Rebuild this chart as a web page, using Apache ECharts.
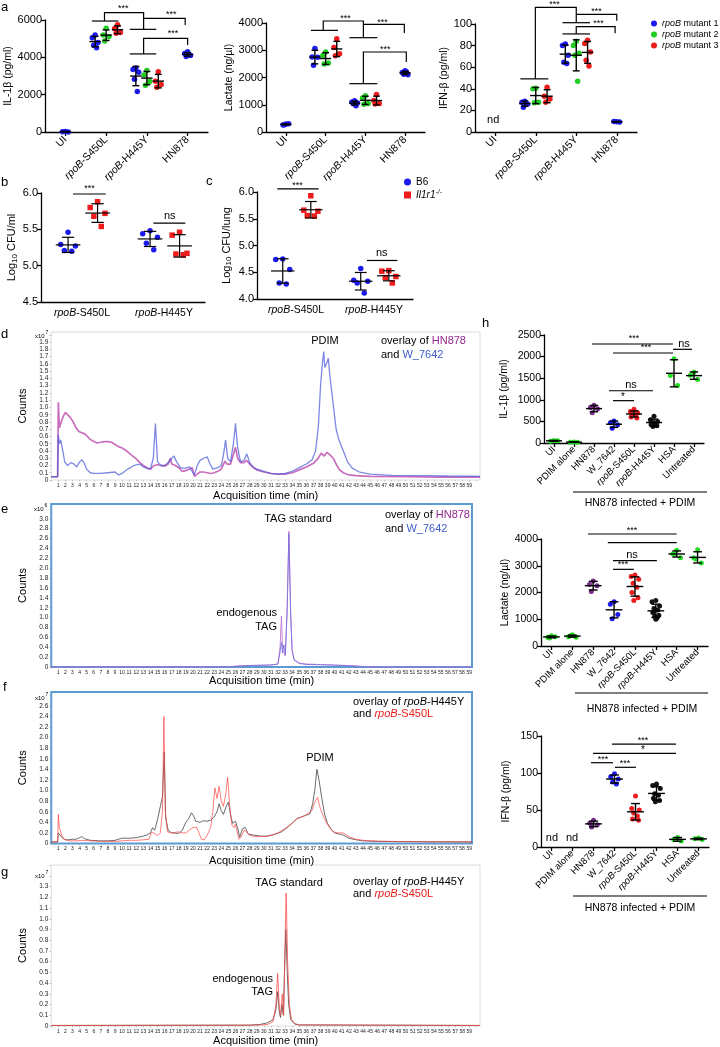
<!DOCTYPE html>
<html><head><meta charset="utf-8">
<script src="https://cdn.jsdelivr.net/npm/echarts@6/dist/echarts.min.js"></script>
<style>html,body{margin:0;padding:0;background:#fff}#c{width:720px;height:1047px}</style>
</head><body><div id="c"></div><script>
// ---------------- DATA ----------------
// Panel a
const A_CATS = ['UI', 'rpoB-S450L', 'rpoB-H445Y', 'HN878'];
const A_MUTANTS = ['rpoB mutant 1', 'rpoB mutant 2', 'rpoB mutant 3'];
const IL1B_UI = [30, 15, 5];
const IL1B_S450L = [[5200, 5050, 4800, 4650, 4520], [5560, 5200, 5110, 4880], [5740, 5550, 5330, 5290]];
const IL1B_H445Y = [[3430, 3350, 3200, 2830, 2170], [3300, 3050, 2700, 2500], [3230, 2720, 2550, 2400]];
const IL1B_HN878 = [4300, 4200, 4100, 4050, 4150];
const LAC_UI = [290, 260, 300, 270];
const LAC_S450L = [[3060, 2750, 2740, 2450], [2940, 2810, 2530, 2500], [3420, 3100, 2870, 2800]];
const LAC_H445Y = [[1150, 1100, 1060, 1040, 960], [1330, 1250, 1050, 1020], [1380, 1160, 1050, 1030]];
const LAC_HN878 = [2250, 2180, 2100, 2120, 2200];
const IFN_S450L = [[28.5, 27.5, 26, 23], [40.5, 40, 27.5, 27], [41.5, 33, 30.5, 27.5]];
const IFN_H445Y = [[81.5, 80, 71, 64.5, 63.5], [84, 80, 73, 71, 47], [85, 82, 74, 66.5, 61]];
const IFN_HN878 = [9.5, 9.8, 9.3];
// Panels b, c
const BC_CATS = ['rpoB-S450L', 'rpoB-H445Y'];
const BC_GROUPS = ['B6', 'Il1r1-/-'];
const B_B6 = [[5.46, 5.29, 5.27, 5.21, 5.20], [5.48, 5.44, 5.39, 5.31, 5.22]];
const B_IL1R1 = [[5.88, 5.80, 5.72, 5.68, 5.54], [5.46, 5.42, 5.17, 5.16, 5.15]];
const C_B6 = [[4.75, 4.74, 4.55, 4.30, 4.28], [4.57, 4.35, 4.33, 4.30, 4.11]];
const C_IL1R1 = [[5.93, 5.66, 5.64, 5.56, 5.55], [4.53, 4.52, 4.42, 4.40, 4.30]];
// Panel h
const H_CATS = ['UI', 'PDIM alone', 'HN878', 'W_7642', 'rpoB-S450L', 'rpoB-H445Y', 'HSA', 'Untreated'];
const H_IL1B = [[60, 40, 50], [25, 15, 20], [875, 820, 790, 700], [510, 470, 420, 340],
  [780, 730, 700, 670, 640, 600, 580], [620, 540, 500, 470, 450, 430, 400, 380], [1950, 1560, 1330], [1640, 1570, 1470]];
const H_LAC = [[380, 330, 350, 300], [420, 350, 330, 380], [2430, 2300, 2250, 2040], [1650, 1560, 1180, 1020],
  [2650, 2600, 2500, 2350, 2200, 2000, 1800, 1700], [1700, 1650, 1500, 1400, 1350, 1250, 1150, 1100, 1050, 1000],
  [3580, 3450, 3300, 3430], [3600, 3300, 3100, 3250]];
const H_IFN = [[], [], [36, 32, 30, 27], [99, 95, 92, 88, 85], [69, 52, 50, 46, 42, 38, 36],
  [85, 83, 79, 72, 70, 66, 63, 61], [13, 10, 8], [12, 11, 10]];
// Chromatograms: [time (min), counts]
const D_HN878 = [[0,0.045],[0.9,0.045],[1.0,1.07],[1.15,0.72],[1.4,0.8],[1.7,0.88],[2.0,0.93],[2.3,0.9],[2.7,0.86],[3.1,0.8],[3.5,0.72],[3.9,0.67],[4.3,0.65],[4.7,0.64],[5.1,0.6],[5.5,0.56],[6.0,0.53],[6.5,0.51],[7.0,0.52],[7.5,0.53],[8.0,0.53],[8.5,0.52],[9.0,0.49],[9.5,0.46],[10.0,0.44],[10.5,0.41],[11.0,0.37],[11.5,0.33],[12.0,0.29],[12.5,0.24],[13.0,0.2],[13.5,0.17],[14.0,0.15],[14.5,0.2],[15.0,0.21],[15.5,0.2],[16.0,0.19],[16.5,0.22],[16.8,0.3],[17.0,0.22],[17.5,0.2],[18.0,0.17],[18.5,0.12],[19.0,0.13],[19.5,0.15],[19.9,0.17],[20.2,0.05],[20.6,0.08],[21.0,0.11],[21.5,0.11],[22,0.1],[22.5,0.09],[23,0.1],[23.5,0.12],[24,0.15],[24.5,0.26],[24.8,0.22],[25.3,0.22],[25.7,0.35],[26.0,0.45],[26.3,0.3],[26.7,0.24],[27.2,0.24],[27.6,0.27],[28,0.22],[28.5,0.17],[29,0.14],[30,0.11],[31,0.09],[32,0.08],[33,0.08],[34,0.1],[35,0.14],[36,0.18],[37,0.23],[37.6,0.29],[38.1,0.37],[38.5,0.33],[38.9,0.38],[39.3,0.35],[39.8,0.3],[40.2,0.22],[40.6,0.15],[41.2,0.1],[42,0.07],[43,0.06],[45,0.05],[50,0.045],[55,0.04],[60.5,0.04]];
const D_W7642 = [[0,0.045],[0.9,0.045],[1.0,0.62],[1.15,0.5],[1.35,0.55],[1.6,0.42],[1.9,0.25],[2.3,0.2],[2.8,0.24],[3.2,0.22],[3.6,0.18],[4.0,0.25],[4.3,0.28],[4.6,0.24],[5.0,0.15],[5.5,0.1],[6.0,0.09],[7.0,0.09],[8.0,0.1],[9.0,0.11],[9.5,0.07],[10.0,0.09],[10.5,0.13],[11.0,0.16],[11.5,0.19],[12.0,0.21],[12.5,0.22],[13.0,0.18],[13.5,0.16],[14.0,0.15],[14.4,0.3],[14.7,0.78],[15.0,0.25],[15.5,0.2],[16.0,0.2],[16.5,0.24],[17.0,0.3],[17.3,0.33],[17.7,0.25],[18.2,0.17],[18.8,0.16],[19.5,0.18],[20.0,0.1],[20.2,0.07],[20.6,0.2],[21.0,0.27],[21.5,0.3],[22.0,0.32],[22.4,0.22],[22.8,0.15],[23.5,0.17],[24.0,0.2],[24.3,0.35],[24.6,0.55],[24.9,0.3],[25.3,0.25],[25.7,0.5],[26.0,0.78],[26.3,0.45],[26.7,0.25],[27.2,0.27],[27.6,0.36],[28.0,0.24],[28.5,0.18],[29.0,0.15],[30,0.12],[31,0.09],[32,0.08],[33,0.09],[34,0.12],[35,0.17],[36,0.22],[36.8,0.28],[37.3,0.4],[37.7,0.75],[38.0,1.3],[38.3,1.65],[38.45,1.77],[38.6,1.55],[38.9,1.62],[39.1,1.68],[39.3,1.45],[39.6,1.2],[39.9,0.95],[40.2,0.7],[40.6,0.55],[41.0,0.45],[41.3,0.38],[41.8,0.25],[42.5,0.16],[43.5,0.11],[45,0.08],[48,0.065],[52,0.06],[56,0.055],[60.5,0.05]];
const E_HN878 = [[0,0],[25,0.005],[26.5,0.02],[28,0.03],[31,0.04],[32,0.06],[32.3,0.4],[32.5,1.03],[32.65,0.35],[32.85,0.3],[33.05,0.22],[33.3,1.2],[33.55,2.75],[33.8,1.1],[34.0,0.35],[34.3,0.15],[35,0.08],[36,0.06],[38,0.05],[40,0.04],[42,0.03],[44,0.01],[46,0],[59.4,0]];
const E_W7642 = [[0,0],[25,0.005],[26.5,0.02],[28,0.03],[31,0.04],[32,0.06],[32.3,0.3],[32.5,0.5],[32.65,0.28],[32.85,0.45],[33.05,0.25],[33.3,1.1],[33.55,2.7],[33.8,1.05],[34.0,0.33],[34.3,0.14],[35,0.07],[36,0.05],[38,0.045],[40,0.035],[42,0.025],[44,0.01],[46,0],[59.4,0]];
const F_H445Y = [[0,0.03],[0.9,0.03],[1.0,0.2],[1.2,0.19],[1.6,0.1],[2.0,0.07],[2.5,0.07],[3.0,0.08],[3.5,0.08],[4.0,0.11],[4.3,0.13],[4.7,0.09],[5.5,0.06],[7,0.05],[8,0.05],[9,0.06],[9.5,0.08],[10,0.1],[11,0.1],[12,0.11],[13,0.14],[13.5,0.16],[14,0.2],[14.3,0.3],[14.6,0.25],[15.0,0.45],[15.4,0.7],[15.7,0.88],[15.95,1.73],[16.15,0.5],[16.5,0.25],[17,0.2],[18,0.19],[18.5,0.25],[19.0,0.4],[19.4,0.47],[19.8,0.58],[20.1,0.52],[20.4,0.42],[21,0.4],[21.5,0.43],[22,0.42],[22.5,0.44],[23.0,0.5],[23.4,0.6],[23.7,0.75],[24.0,0.62],[24.3,0.55],[24.7,0.7],[25.0,0.78],[25.3,0.55],[25.6,0.38],[26.0,0.42],[26.3,0.3],[26.6,0.12],[27,0.28],[27.4,0.3],[27.8,0.18],[28.5,0.16],[29.5,0.14],[30.5,0.14],[31.5,0.17],[32.5,0.22],[33.5,0.32],[34.3,0.42],[34.8,0.48],[35.3,0.5],[35.9,0.53],[36.5,0.56],[36.9,0.75],[37.2,1.0],[37.5,1.4],[37.8,1.2],[38.2,0.85],[38.6,0.55],[39.0,0.38],[39.5,0.27],[40,0.2],[40.5,0.18],[41,0.17],[41.5,0.14],[42,0.1],[43,0.07],[44,0.05],[46,0.04],[50,0.035],[59.4,0.03]];
const F_S450L = [[0,0.03],[0.9,0.03],[1.0,0.55],[1.15,0.3],[1.4,0.18],[1.8,0.08],[2.5,0.05],[3.5,0.05],[4.3,0.06],[5.5,0.05],[7,0.04],[9,0.04],[10,0.05],[11,0.06],[12,0.06],[13,0.07],[13.8,0.08],[14.1,0.2],[14.5,0.2],[15.0,0.15],[15.4,0.2],[15.7,0.6],[15.9,2.4],[16.1,0.6],[16.4,0.22],[17,0.2],[18,0.22],[18.5,0.2],[19,0.2],[19.5,0.25],[20.0,0.3],[20.5,0.31],[20.8,0.22],[21.2,0.08],[21.6,0.07],[22,0.15],[22.5,0.3],[22.8,0.6],[23.1,1.05],[23.4,0.85],[23.7,1.08],[24.0,0.8],[24.3,0.7],[24.6,0.9],[24.9,1.25],[25.2,0.7],[25.5,0.35],[25.8,0.3],[26.0,0.36],[26.2,0.25],[26.5,0.08],[26.8,0.12],[27.2,0.25],[27.6,0.22],[28,0.15],[29,0.13],[30,0.13],[31,0.15],[32,0.2],[33,0.28],[34,0.38],[34.6,0.46],[35.2,0.49],[35.8,0.53],[36.4,0.58],[36.8,0.62],[37.2,0.78],[37.6,0.87],[37.9,0.7],[38.3,0.55],[38.8,0.4],[39.3,0.3],[39.8,0.22],[40.5,0.2],[41.2,0.2],[42,0.13],[43,0.08],[44,0.06],[46,0.045],[50,0.035],[59.4,0.03]];
const G_H445Y = [[0,0.005],[28,0.008],[29.5,0.015],[30.5,0.03],[31.3,0.06],[31.7,0.15],[31.95,0.32],[32.2,0.12],[32.35,0.08],[32.55,0.2],[32.75,0.1],[32.95,0.6],[33.1,0.9],[33.3,0.5],[33.5,0.2],[33.8,0.06],[34.3,0.02],[35,0.01],[60.5,0.005]];
const G_S450L = [[0,0.005],[29,0.008],[30.5,0.015],[31.3,0.04],[31.7,0.2],[31.95,0.49],[32.2,0.15],[32.35,0.1],[32.6,0.3],[32.8,0.1],[33.0,0.8],[33.15,1.24],[33.35,0.6],[33.6,0.2],[33.9,0.06],[34.4,0.02],[35,0.01],[60.5,0.005]];

// ---------------- STYLE / LAYOUT ----------------
const FONT = 'Liberation Sans, Arial, Helvetica, sans-serif';
const A_OFF = [-0.27, 0, 0.28];
const A_COL = ['#1a1aee', '#22cc22', '#ee1c1c'];
const BC_OFF = [-0.17, 0.19];
const BC_COL = ['#1a1aee', '#ee1c1c'];
const BC_SYM = ['circle', 'rect'];
const H_COL = ['#22dd22', '#22dd22', '#7b2d8e', '#1a1aee', '#ee1c1c', '#111111', '#22dd22', '#22dd22'];
const JIT = [0, -1, 1, -0.5, 0.5, -0.8, 0.8, -0.3, 0.3, 0];

const opt = {animation: false, textStyle: {fontFamily: FONT}, grid: [], xAxis: [], yAxis: [], series: [], legend: [], graphic: []};

function stats(v) {
  const n = v.length, m = v.reduce((a, b) => a + b, 0) / n;
  const sd = n > 1 ? Math.sqrt(v.reduce((a, b) => a + (b - m) * (b - m), 0) / (n - 1)) : 0;
  return [m, sd];
}
function fmtCat(s) { return s.replace('rpoB', '{i|rpoB}'); }

function errRender(meanW, capW, lw) {
  return function (params, api) {
    const x = api.value(0), m = api.value(1), s = api.value(2);
    const u = api.size([1, 0])[0];
    const c = api.coord([x, m]), t = api.coord([x, m + s]), b = api.coord([x, m - s]);
    const st = {stroke: '#000', lineWidth: lw};
    return {type: 'group', children: [
      {type: 'line', shape: {x1: c[0] - meanW * u / 2, y1: c[1], x2: c[0] + meanW * u / 2, y2: c[1]}, style: st},
      {type: 'line', shape: {x1: c[0], y1: t[1], x2: c[0], y2: b[1]}, style: st},
      {type: 'line', shape: {x1: c[0] - capW * u / 2, y1: t[1], x2: c[0] + capW * u / 2, y2: t[1]}, style: st},
      {type: 'line', shape: {x1: c[0] - capW * u / 2, y1: b[1], x2: c[0] + capW * u / 2, y2: b[1]}, style: st}
    ]};
  };
}
function annRender(items, lw) {
  return function (params, api) {
    const it = items[params.dataIndex];
    if (it.pts) {
      return {type: 'polyline', shape: {points: it.pts.map(q => api.coord(q))}, style: {stroke: '#000', lineWidth: lw, fill: 'none'}};
    }
    const c = api.coord([it.x, it.y]);
    return {type: 'text', x: c[0], y: c[1], style: {text: it.t, fontSize: it.fs, fontFamily: FONT, fill: '#000', align: 'center', verticalAlign: 'middle'}};
  };
}

function dotPanel(p) {
  const gi = opt.grid.length;
  opt.grid.push({left: p.box[0], top: p.box[1], width: p.box[2], height: p.box[3]});
  const xi = opt.xAxis.length, yi = opt.yAxis.length;
  const ticks = p.cats.map((c, i) => i);
  opt.xAxis.push({type: 'value', gridIndex: gi, min: -0.5, max: p.cats.length - 0.5,
    axisLine: {show: true, onZero: false, lineStyle: {color: '#000', width: 1.3}},
    axisTick: {show: p.xTicks !== false, customValues: ticks, length: 4, lineStyle: {color: '#000', width: 1.3}},
    axisLabel: {show: true, customValues: ticks, rotate: p.rotate || 0, fontSize: p.catFont, color: '#000', margin: p.catMargin,
      formatter: v => fmtCat(p.cats[Math.round(v)] || ''),
      rich: {i: {fontStyle: 'italic', fontSize: p.catFont, color: '#000', fontFamily: FONT}}},
    splitLine: {show: false}});
  opt.yAxis.push({type: 'value', gridIndex: gi, min: p.ymin, max: p.ymax, interval: p.yint,
    axisLine: {show: true, onZero: false, lineStyle: {color: '#000', width: 1.3}},
    axisTick: {show: true, length: 4, lineStyle: {color: '#000', width: 1.3}},
    axisLabel: {fontSize: p.yFont, color: '#000', margin: 3, formatter: p.yFmt || (v => String(v))},
    splitLine: {show: false},
    name: p.yname, nameLocation: 'middle', nameGap: p.nameGap,
    nameTextStyle: {fontSize: p.nameFont, color: '#000', rich: p.nameRich}});
  const err = [];
  p.groups.forEach(g => {
    if (!g.vals.length) return;
    const pts = g.vals.map((v, k) => [g.x + JIT[k % JIT.length] * p.jit, v]);
    opt.series.push({type: 'scatter', name: g.name, xAxisIndex: xi, yAxisIndex: yi, data: pts,
      symbol: g.symbol, symbolSize: p.size, itemStyle: {color: g.color, opacity: 1}, z: 3});
    const s = stats(g.vals);
    err.push([g.x, s[0], s[1]]);
  });
  opt.series.push({type: 'custom', name: 'err' + gi, xAxisIndex: xi, yAxisIndex: yi, data: err,
    renderItem: errRender(p.meanW, p.capW, p.lw), z: 5, silent: true});
  if (p.ann) {
    opt.series.push({type: 'custom', name: 'ann' + gi, xAxisIndex: xi, yAxisIndex: yi, clip: false,
      data: p.ann.map(it => it.pts ? it.pts[0] : [it.x, it.y]),
      renderItem: annRender(p.ann, 1.2), z: 6, silent: true});
  }
}

function chromPanel(p) {
  const gi = opt.grid.length;
  opt.grid.push({left: 51.25, top: p.top, width: p.right - 51.25, height: p.bottom - p.top,
    show: true, borderColor: p.border, borderWidth: p.bw, backgroundColor: 'transparent'});
  const xi = opt.xAxis.length, yi = opt.yAxis.length;
  opt.xAxis.push({type: 'value', gridIndex: gi, min: 0, max: p.xmax, interval: 1,
    axisLine: {show: false}, axisTick: {show: true, length: 1.5, lineStyle: {color: '#999', width: 0.5}},
    axisLabel: {fontSize: 5, color: '#222', margin: 3, showMaxLabel: false,
      formatter: v => (v >= 1 && v <= 59 && Math.abs(v - Math.round(v)) < 1e-6) ? String(Math.round(v)) : ''},
    splitLine: {show: false},
    name: 'Acquisition time (min)', nameLocation: 'middle', nameGap: p.xgap,
    nameTextStyle: {fontSize: 11, color: '#000'}});
  opt.yAxis.push({type: 'value', gridIndex: gi, min: 0, max: p.ymax, interval: p.yint,
    axisLine: {show: false, onZero: false}, axisTick: {show: true, length: 2, lineStyle: {color: '#999', width: 0.5}},
    axisLabel: {fontSize: 6.5, color: '#222', margin: 3, showMaxLabel: false,
      formatter: v => v > p.ylab + 1e-6 ? '' : (Math.abs(v) < 1e-9 ? '0' : v.toFixed(1))},
    splitLine: {show: false},
    name: 'Counts', nameLocation: 'middle', nameGap: 19, nameTextStyle: {fontSize: 11, color: '#000'}});
  p.lines.forEach(l => {
    opt.series.push({type: 'line', name: l.name, xAxisIndex: xi, yAxisIndex: yi, data: l.data,
      showSymbol: false, symbol: 'none', lineStyle: {color: l.color, width: l.w || 0.9}, z: l.z || 2, silent: true});
  });
}

function T(x, y, text, o) {
  opt.graphic.push({type: 'text', x: x, y: y, silent: true,
    style: Object.assign({text: text, fontSize: 11, fontFamily: FONT, fill: '#000', align: 'left', verticalAlign: 'middle'}, o || {})});
}
function L(x1, y1, x2, y2, w) {
  opt.graphic.push({type: 'line', silent: true, shape: {x1, y1, x2, y2}, style: {stroke: '#000', lineWidth: w || 1.2}});
}

// ---- panel a ----
function aGroups(ui, s450, h445, hn) {
  const g = [];
  if (ui) g.push({x: 0, vals: ui, m: 0});
  s450.forEach((v, k) => g.push({x: 1 + A_OFF[k], vals: v, m: k}));
  h445.forEach((v, k) => g.push({x: 2 + A_OFF[k], vals: v, m: k}));
  g.push({x: 3, vals: hn, m: 0});
  return g.map(o => ({x: o.x, vals: o.vals, name: A_MUTANTS[o.m], color: A_COL[o.m], symbol: 'circle'}));
}
const aCommon = {cats: A_CATS, rotate: 45, catFont: 10.5, catMargin: 6, ymin: 0, yFont: 11, nameFont: 10.5,
  jit: 0.07, size: 5.5, meanW: 0.28, capW: 0.17, lw: 1.4};
dotPanel(Object.assign({}, aCommon, {box: [45, 20, 163, 112], ymax: 6000, yint: 2000, yname: 'IL-1β (pg/ml)', nameGap: 30,
  groups: aGroups(IL1B_UI, IL1B_S450L, IL1B_H445Y, IL1B_HN878),
  ann: [
    {pts: [[0.65, 5945], [1.30, 5945]]}, {pts: [[0.96, 5945], [0.96, 6390], [1.92, 6390], [1.92, 5500]]},
    {pts: [[1.58, 5500], [2.23, 5500]]}, {pts: [[1.92, 6088], [2.94, 6088], [2.94, 5732]]},
    {t: '***', x: 1.42, y: 6640, fs: 9}, {t: '***', x: 2.6, y: 6300, fs: 9},
    {pts: [[1.58, 4183], [2.23, 4183]]}, {pts: [[1.92, 4183], [1.92, 5020], [3.0, 5020], [3.0, 4664]]},
    {t: '***', x: 2.64, y: 5250, fs: 9}
  ]}));
dotPanel(Object.assign({}, aCommon, {box: [266, 23, 159, 109], ymax: 4000, yint: 1000, yname: 'Lactate (ng/µl)', nameGap: 26,
  groups: aGroups(LAC_UI, LAC_S450L, LAC_H445Y, LAC_HN878),
  ann: [
    {pts: [[0.63, 3730], [1.31, 3730]]}, {pts: [[0.94, 3730], [0.94, 4073], [1.95, 4073], [1.95, 3461]]},
    {pts: [[1.6, 3461], [2.3, 3461]]}, {pts: [[1.95, 3950], [2.98, 3950], [2.98, 3632]]},
    {t: '***', x: 1.5, y: 4170, fs: 9}, {t: '***', x: 2.43, y: 4030, fs: 9},
    {pts: [[1.6, 1773], [2.3, 1773]]}, {pts: [[1.95, 1773], [1.95, 2935], [3.03, 2935], [3.03, 2568]]},
    {t: '***', x: 2.5, y: 3010, fs: 9}
  ]}));
dotPanel(Object.assign({}, aCommon, {box: [475, 24, 162, 108], ymax: 100, yint: 20, yname: 'IFN-β (pg/ml)', nameGap: 24,
  groups: aGroups(null, IFN_S450L, IFN_H445Y, IFN_HN878),
  ann: [
    {pts: [[0.62, 49.2], [1.31, 49.2]]}, {pts: [[0.99, 49.2], [0.99, 115.4], [2.0, 115.4], [2.0, 101.2]]},
    {pts: [[1.66, 101.2], [2.34, 101.2]]}, {pts: [[2.0, 109], [3.0, 109], [3.0, 103]]},
    {t: '***', x: 1.46, y: 118.5, fs: 9}, {t: '***', x: 2.5, y: 111.8, fs: 9},
    {pts: [[1.66, 90.8], [2.34, 90.8]]}, {pts: [[2.0, 90.8], [2.0, 97.5], [2.96, 97.5], [2.96, 91.4]]},
    {t: '***', x: 2.55, y: 100.3, fs: 9},
    {t: 'nd', x: -0.05, y: 11, fs: 11}
  ]}));

// ---- panels b, c ----
function bcGroups(b6, il) {
  const g = [];
  [b6, il].forEach((arr, s) => arr.forEach((v, k) => g.push({x: k + BC_OFF[s], vals: v, name: BC_GROUPS[s], color: BC_COL[s], symbol: BC_SYM[s]})));
  return g;
}
const bcCommon = {cats: BC_CATS, rotate: 0, catFont: 10.5, catMargin: 6, yFont: 11, nameFont: 11, xTicks: false,
  yint: 0.5, yFmt: v => v.toFixed(1), jit: 0.09, size: 5.5, meanW: 0.3, capW: 0.15, lw: 1.2,
  nameRich: {n: {fontSize: 11, fontFamily: FONT, color: '#000'}, s: {fontSize: 8, fontFamily: FONT, color: '#000', verticalAlign: 'bottom', padding: [5, 0, 0, 0]}}};
dotPanel(Object.assign({}, bcCommon, {box: [41, 193, 164, 109], ymin: 4.5, ymax: 6.0,
  yname: '{n|Log}{s|10}{n| CFU/ml}', nameGap: 22, groups: bcGroups(B_B6, B_IL1R1),
  ann: [
    {pts: [[-0.11, 5.986], [0.29, 5.986]]}, {t: '***', x: 0.09, y: 6.06, fs: 9},
    {pts: [[0.87, 5.585], [1.26, 5.585]]}, {t: 'ns', x: 1.07, y: 5.69, fs: 11}
  ]}));
dotPanel(Object.assign({}, bcCommon, {box: [257, 192, 156, 107], ymin: 4.0, ymax: 6.0,
  yname: '{n|Log}{s|10}{n| CFU/lung}', nameGap: 24, groups: bcGroups(C_B6, C_IL1R1),
  ann: [
    {pts: [[-0.24, 6.06], [0.29, 6.06]]}, {t: '***', x: 0.02, y: 6.12, fs: 9},
    {pts: [[0.91, 4.72], [1.3, 4.72]]}, {t: 'ns', x: 1.1, y: 4.86, fs: 11}
  ]}));

// ---- panel h ----
function hGroups(vals) { return vals.map((v, i) => ({x: i, vals: v, name: 'h ' + H_CATS[i], color: H_COL[i], symbol: 'circle'})); }
const hCommon = {cats: H_CATS, rotate: 45, catFont: 9.5, catMargin: 5, ymin: 0, yFont: 10.5, nameFont: 10.5,
  jit: 0.18, size: 5, meanW: 0.8, capW: 0.42, lw: 1.4};
dotPanel(Object.assign({}, hCommon, {box: [544, 335, 160, 108], ymax: 2500, yint: 500, yname: 'IL-1β (pg/ml)', nameGap: 34,
  groups: hGroups(H_IL1B),
  ann: [
    {pts: [[1.9, 2292], [5.95, 2292]]}, {t: '***', x: 4.0, y: 2420, fs: 9},
    {pts: [[2.95, 2083], [5.95, 2083]]}, {t: '***', x: 4.6, y: 2200, fs: 9},
    {pts: [[5.95, 2169], [6.9, 2169]]}, {t: 'ns', x: 6.5, y: 2300, fs: 11},
    {pts: [[2.75, 1210], [4.95, 1210]]}, {t: 'ns', x: 3.85, y: 1345, fs: 11},
    {pts: [[2.95, 980], [4.0, 980]]}, {t: '*', x: 3.45, y: 1060, fs: 10}
  ]}));
dotPanel(Object.assign({}, hCommon, {box: [541, 539, 167, 107], ymax: 4000, yint: 1000, yname: 'Lactate (ng/µl)', nameGap: 29,
  groups: hGroups(H_LAC),
  ann: [
    {pts: [[1.75, 4187], [6.0, 4187]]}, {t: '***', x: 3.86, y: 4330, fs: 9},
    {pts: [[2.7, 3863], [6.0, 3863]]},
    {pts: [[2.95, 3190], [5.05, 3190]]}, {t: 'ns', x: 3.86, y: 3400, fs: 11},
    {pts: [[2.95, 2866], [3.95, 2866]]}, {t: '***', x: 3.43, y: 3030, fs: 9}
  ]}));
dotPanel(Object.assign({}, hCommon, {box: [541, 736, 168, 111], ymax: 150, yint: 50, yname: 'IFN-β (pg/ml)', nameGap: 29,
  groups: hGroups(H_IFN),
  ann: [
    {pts: [[2.88, 139], [5.93, 139]]}, {t: '***', x: 4.36, y: 144, fs: 9},
    {pts: [[1.98, 126.6], [5.93, 126.6]]}, {t: '*', x: 4.36, y: 130.5, fs: 10},
    {pts: [[1.88, 113.9], [2.93, 113.9]]}, {t: '***', x: 2.45, y: 118, fs: 9},
    {pts: [[3.02, 107.7], [4.02, 107.7]]}, {t: '***', x: 3.5, y: 112.5, fs: 9},
    {t: 'nd', x: 0.02, y: 12, fs: 11}, {t: 'nd', x: 0.98, y: 12, fs: 11}
  ]}));

// ---- chromatograms d-g ----
chromPanel({top: 332, bottom: 480, right: 480, xmax: 60.5, ymax: 2.04, yint: 0.1, ylab: 1.9, xgap: 10,
  border: '#dcdcdc', bw: 1,
  lines: [{name: 'HN878', data: D_HN878, color: 'rgba(185,60,170,0.75)', w: 1.7},
          {name: 'W_7642', data: D_W7642, color: 'rgba(70,85,215,0.7)', w: 1.3}]});
chromPanel({top: 504, bottom: 667, right: 472, xmax: 59.4, ymax: 3.30, yint: 0.2, ylab: 3.0, xgap: 8,
  border: '#5b9bd5', bw: 2,
  lines: [{name: 'HN878 e', data: E_HN878, color: 'rgba(190,120,210,0.9)', w: 1},
          {name: 'W_7642 e', data: E_W7642, color: 'rgba(120,110,220,0.8)', w: 1}]});
chromPanel({top: 692, bottom: 843.5, right: 472, xmax: 59.4, ymax: 2.86, yint: 0.2, ylab: 2.6, xgap: 12,
  border: '#5b9bd5', bw: 2,
  lines: [{name: 'H445Y f', data: F_H445Y, color: 'rgba(70,70,70,0.8)', w: 1},
          {name: 'S450L f', data: F_S450L, color: 'rgba(255,70,70,0.7)', w: 1}]});
chromPanel({top: 865, bottom: 1026, right: 480, xmax: 60.5, ymax: 1.502, yint: 0.1, ylab: 1.3, xgap: 9,
  border: '#dcdcdc', bw: 1,
  lines: [{name: 'H445Y g', data: G_H445Y, color: 'rgba(70,70,70,0.8)', w: 1},
          {name: 'S450L g', data: G_S450L, color: 'rgba(255,70,70,0.75)', w: 1}]});

// ---- legends ----
opt.legend.push({left: 651, top: 19, orient: 'vertical', itemWidth: 6, itemHeight: 6, itemGap: 2, icon: 'circle',
  selectedMode: false, padding: 0, data: A_MUTANTS,
  formatter: n => n.replace('rpoB', '{i|rpoB}'),
  textStyle: {fontSize: 9, color: '#000', fontFamily: FONT, rich: {i: {fontStyle: 'italic', fontSize: 9, fontFamily: FONT, color: '#000'}}}});
opt.legend.push({left: 404, top: 177, orient: 'vertical', itemWidth: 7, itemHeight: 7, itemGap: 2,
  selectedMode: false, padding: 0,
  data: [{name: BC_GROUPS[0], icon: 'circle'}, {name: BC_GROUPS[1], icon: 'rect'}],
  formatter: n => n === 'B6' ? 'B6' : '{i|Il1r1}{s|-/-}',
  textStyle: {fontSize: 10, color: '#000', fontFamily: FONT,
    rich: {i: {fontStyle: 'italic', fontSize: 10, fontFamily: FONT, color: '#000'},
           s: {fontStyle: 'italic', fontSize: 7, fontFamily: FONT, color: '#000', verticalAlign: 'top', padding: [0, 0, 5, 0]}}}});

// ---- texts ----
const LET = {fontSize: 13};
T(1, 7, 'a', LET); T(1, 182, 'b', LET); T(206, 181, 'c', LET); T(1, 334, 'd', LET);
T(1, 509, 'e', LET); T(3, 687, 'f', LET); T(1, 872, 'g', LET); T(482, 323, 'h', LET);
// d
T(325, 341, 'PDIM', {align: 'center'});
T(381, 341, 'overlay of {p|HN878}', {rich: {p: {fill: '#92278f', fontSize: 11, fontFamily: FONT}}});
T(381, 355, 'and {b|W_7642}', {rich: {b: {fill: '#3d5ccc', fontSize: 11, fontFamily: FONT}}});
T(35, 336, 'x10', {fontSize: 6}); T(45.5, 332.5, '7', {fontSize: 5});
// e
T(298, 519, 'TAG standard', {align: 'center'});
T(277, 613, 'endogenous', {align: 'right'}); T(277, 627, 'TAG', {align: 'right'});
T(385, 515, 'overlay of {p|HN878}', {rich: {p: {fill: '#92278f', fontSize: 11, fontFamily: FONT}}});
T(385, 529, 'and {b|W_7642}', {rich: {b: {fill: '#3d5ccc', fontSize: 11, fontFamily: FONT}}});
T(34, 509, 'x10', {fontSize: 6}); T(44.5, 505.5, '6', {fontSize: 5});
// f
T(320, 758, 'PDIM', {align: 'center'});
T(353, 702, 'overlay of {i|rpoB}-H445Y', {rich: {i: {fontStyle: 'italic', fontSize: 11, fontFamily: FONT, fill: '#000'}}});
T(353, 714, 'and {r|rpoB}{q|-S450L}', {rich: {r: {fontStyle: 'italic', fontSize: 11, fontFamily: FONT, fill: '#ee1c1c'}, q: {fontSize: 11, fontFamily: FONT, fill: '#ee1c1c'}}});
T(35, 698, 'x10', {fontSize: 6}); T(45.5, 694.5, '7', {fontSize: 5});
// g
T(289, 883, 'TAG standard', {align: 'center'});
T(273, 979, 'endogenous', {align: 'right'}); T(273, 992, 'TAG', {align: 'right'});
T(353, 882, 'overlay of {i|rpoB}-H445Y', {rich: {i: {fontStyle: 'italic', fontSize: 11, fontFamily: FONT, fill: '#000'}}});
T(353, 894, 'and {r|rpoB}{q|-S450L}', {rich: {r: {fontStyle: 'italic', fontSize: 11, fontFamily: FONT, fill: '#ee1c1c'}, q: {fontSize: 11, fontFamily: FONT, fill: '#ee1c1c'}}});
T(35, 876, 'x10', {fontSize: 6}); T(45.5, 872.5, '7', {fontSize: 5});
// h group labels
L(573, 492, 707, 492); T(640, 503, 'HN878 infected + PDIM', {align: 'center', fontSize: 10.5});
L(575, 693, 708, 693); T(642, 709, 'HN878 infected + PDIM', {align: 'center', fontSize: 10.5});
L(573, 896, 707, 896); T(640, 908, 'HN878 infected + PDIM', {align: 'center', fontSize: 10.5});

const chart = echarts.init(document.getElementById('c'), null, {renderer: 'canvas'});
chart.setOption(opt);
</script></body></html>
